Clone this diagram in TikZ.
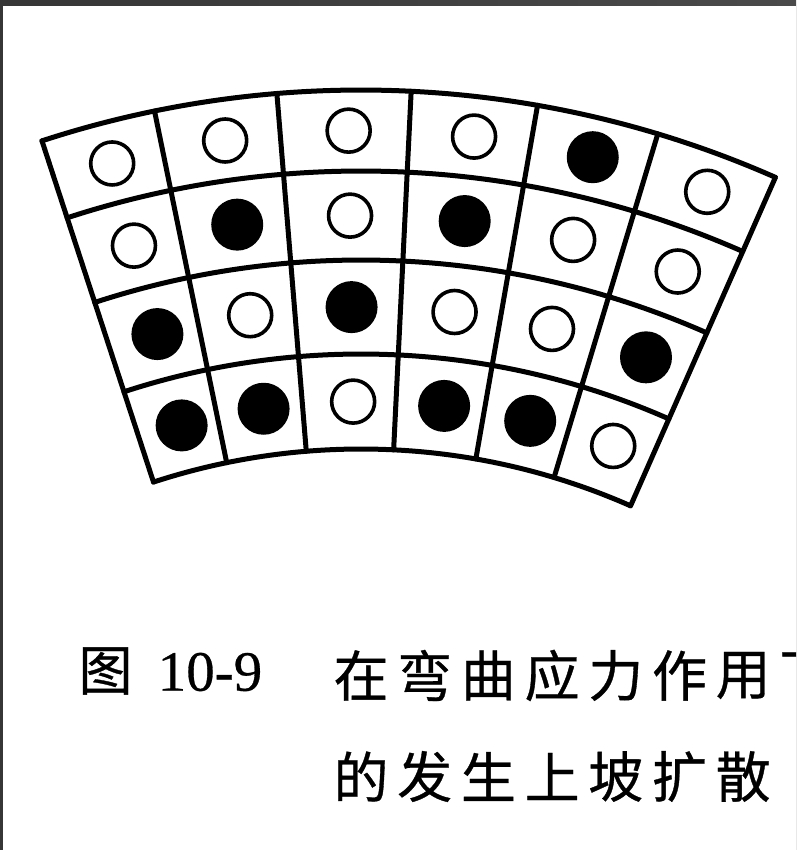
\documentclass[tikz,border=0pt]{standalone}
\usepackage{fontspec}
\newfontfamily\cjk[UprightFeatures={FakeBold=0.6}]{Noto Sans CJK SC}
\newfontfamily\numfont[UprightFeatures={FakeBold=0.5}]{Liberation Serif}
\definecolor{frameL}{HTML}{363636}
\definecolor{frameR}{HTML}{4A4A4A}
\begin{document}
\begin{tikzpicture}[x=1pt,y=1pt,
  gridline/.style={line width=5pt, line cap=round, line join=round},
  vacancy/.style={line width=3.6pt},
  solute/.style={fill=black},
  captioncjk/.style={font=\cjk\fontsize{55}{55}\selectfont, inner sep=0pt, anchor=center}]
\useasboundingbox (0,0) rectangle (796,850);
% frame of the scan
\shade[left color=frameL, right color=frameR] (0,0) rectangle (796,850);
\fill[white] (3,0) rectangle (796,844);
% centre of the bent lattice
\coordinate (O) at (361,-267);
% radial lines
\foreach \a in {108.1,101.6,94.7,87.2,80.1,73.2,66.2}
  \draw[gridline] ([shift={(\a:668)}]O) -- ([shift={(\a:1027)}]O);
% arcs
\foreach \r in {1027,946,857,763,668}
  \draw[gridline] ([shift={(108.1:\r)}]O) arc[start angle=108.1, end angle=66.2, radius=\r];
% open circles
\foreach \r/\a in {986.5/104.85, 986.5/98.15, 986.5/90.95, 986.5/83.65, 986.5/69.7,
                   901.5/104.85, 901.5/90.95, 901.5/76.65, 901.5/69.7,
                   810/98.15, 810/83.65, 810/76.65,
                   715.5/90.95, 715.5/69.7}
  \draw[vacancy] ([shift={(\a:\r)},xshift=4pt]O) circle[radius=21.5];
% filled circles
\foreach \r/\a in {986.5/76.65,
                   901.5/98.15, 901.5/83.65,
                   810/104.85, 810/90.95, 810/69.7,
                   715.5/104.85, 715.5/98.15, 715.5/83.65, 715.5/76.65}
  \fill[solute] ([shift={(\a:\r)},xshift=4pt]O) circle[radius=26];
% caption
\begin{scope}
\clip (0,0) rectangle (796,850);
\node[font=\cjk\fontsize{54}{54}\selectfont, inner sep=0pt] (fig) at (105.5,179) {图};
\node[font=\numfont\fontsize{57}{57}\selectfont, inner sep=0pt] (num) at (210,178) {10-9};
\foreach \c [count=\i] in {在,弯,曲,应,力,作,用,下}
  \node[captioncjk] (a\i) at ({361+63.7*(\i-1)},174.5) {\c};
\foreach \c [count=\i] in {的,发,生,上,坡,扩,散}
  \node[captioncjk] (b\i) at ({361+63.7*(\i-1)},73.5) {\c};
\end{scope}
\end{tikzpicture}
\end{document}
